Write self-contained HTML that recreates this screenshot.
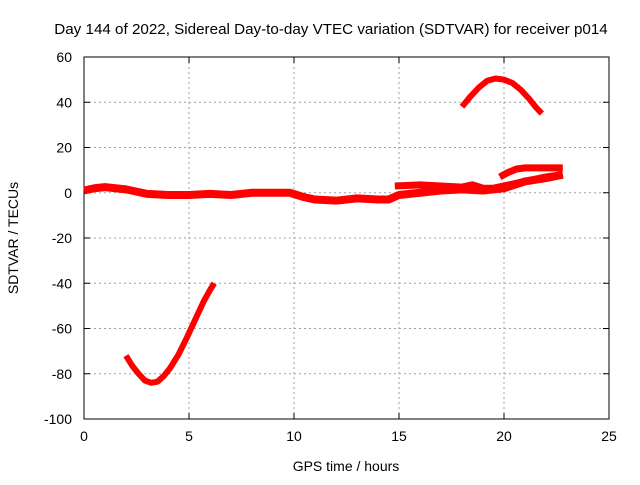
<!DOCTYPE html>
<html><head><meta charset="utf-8"><style>
body{margin:0;background:#fff}
svg text{font-family:"Liberation Sans",sans-serif;font-size:14px;fill:#000}
</style></head><body>
<svg width="640" height="480">
<g id="grid"></g>
<g id="axes"></g>
<g id="series"></g>
<text x="331" y="34" text-anchor="middle" style="font-size:15.2px">Day 144 of 2022, Sidereal Day-to-day VTEC variation (SDTVAR) for receiver p014</text>
<text x="346" y="471" text-anchor="middle">GPS time / hours</text>
<text x="18" y="238" text-anchor="middle" transform="rotate(-90 18 238)">SDTVAR / TECUs</text>
</svg>
<script>
const xTicks=[0,5,10,15,20,25];
const yTicks=[60,40,20,0,-20,-40,-60,-80,-100];
const dipX=[2,2.3,2.6,2.9,3.2,3.5,3.8,4.1,4.5,4.9,5.3,5.7,6.0,6.2];
const dipY=[-72,-76.5,-80,-83,-84,-83.5,-81,-77.5,-71.5,-64,-56,-48,-43,-40];
const mainX=[0,0.5,1,1.5,2,2.5,3,4,5,6,7,8,9,9.8,10.5,11,12,13,14,14.5,15,16,17,18,19,20,21,22,22.8];
const mainY=[1,2,2.5,2,1.5,0.5,-0.5,-1,-1,-0.5,-1,0,0,0,-2,-3,-3.5,-2.5,-3,-3,-1,0,1,1.5,1,2,5,6.5,8];
const upperX=[14.8,16,17,18,18.5,19,19.5,20,21,22,22.8];
const upperY=[3,3.5,3,2.5,3.5,2,2,3,5,7,8];
const topX=[19.8,20.2,20.6,21,21.5,22,22.8];
const topY=[7,9,10.5,11,11,11,11];
const humpX=[18,18.4,18.8,19.2,19.6,20,20.4,20.8,21.2,21.5,21.8];
const humpY=[38,42.5,46.5,49.5,50.5,50,48.5,45.5,41.5,38,35];
const L=84,R=609,T=57,B=419;
const sx=v=>L+(v-0)/25*(R-L), sy=v=>T+(60-v)/160*(B-T);
const NS='http://www.w3.org/2000/svg';
function mk(t,a,p){const e=document.createElementNS(NS,t);for(const k in a)e.setAttribute(k,a[k]);p.appendChild(e);return e;}
const g=document.getElementById('grid'),ax=document.getElementById('axes'),s=document.getElementById('series');
xTicks.forEach(v=>{const x=sx(v);
 if(v>0&&v<25){const l=mk('line',{x1:x,x2:x,y1:T,y2:B,stroke:'#a0a0a0','stroke-dasharray':'2,3'},g);}
 mk('line',{x1:x,x2:x,y1:B,y2:B-6,stroke:'#000'},ax);mk('line',{x1:x,x2:x,y1:T,y2:T+6,stroke:'#000'},ax);
 const t=mk('text',{x:x,y:B+22,'text-anchor':'middle'},ax);t.textContent=v;});
yTicks.forEach(v=>{const y=sy(v);
 if(v>-100&&v<60){const l=mk('line',{x1:L,x2:R,y1:y,y2:y,stroke:'#a0a0a0','stroke-dasharray':'2,3'},g);}
 mk('line',{x1:L,x2:L+6,y1:y,y2:y,stroke:'#000'},ax);mk('line',{x1:R,x2:R-6,y1:y,y2:y,stroke:'#000'},ax);
 const t=mk('text',{x:L-12,y:y+5,'text-anchor':'end'},ax);t.textContent=v;});
const fr=mk('rect',{x:L,y:T,width:R-L,height:B-T,fill:'none',stroke:'#000'},ax);

function line(xs,ys,w,name){const p=mk('polyline',{points:xs.map((x,i)=>sx(x)+','+sy(ys[i])).join(' '),fill:'none',stroke:'#ff0000','stroke-width':w,'stroke-linejoin':'round'},s);
 }
line(dipX,dipY,6,'series-dip');
line(mainX,mainY,8,'series-main');
line(upperX,upperY,7,'series-upper');
line(topX,topY,7,'series-top');
line(humpX,humpY,6,'series-hump');
</script>
</body></html>
